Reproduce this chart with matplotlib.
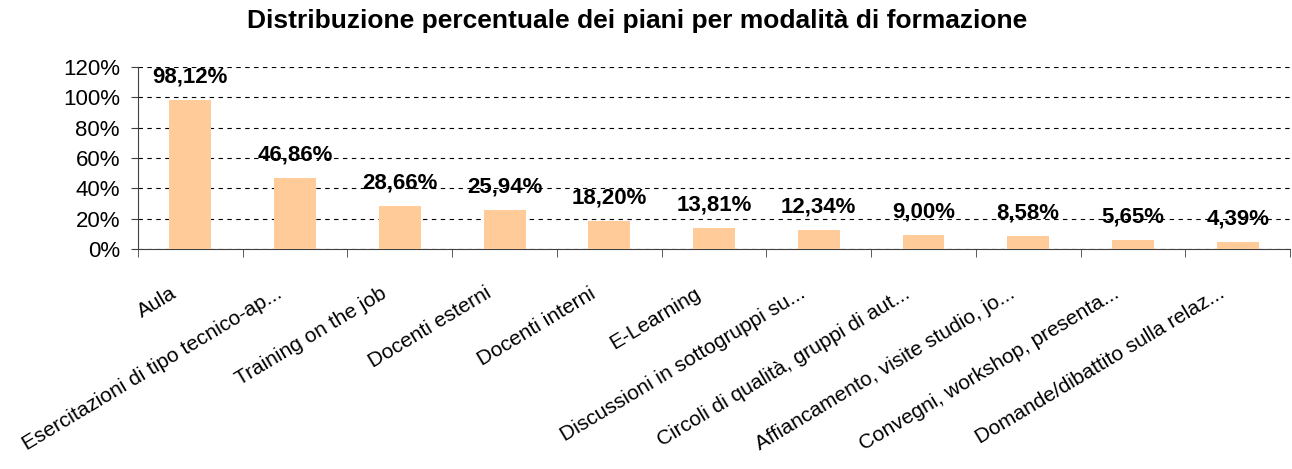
import numpy as np
import matplotlib.pyplot as plt
import matplotlib.transforms as mtransforms

plt.rcParams['font.family'] = ['Liberation Sans', 'DejaVu Sans']

categories = ["Aula", "Esercitazioni di tipo tecnico-ap...", "Training on the job",
              "Docenti esterni", "Docenti interni", "E-Learning",
              "Discussioni in sottogruppi su...", "Circoli di qualità, gruppi di aut...",
              "Affiancamento, visite studio, jo...", "Convegni, workshop, presenta...",
              "Domande/dibattito sulla relaz..."]
values = [98.12, 46.86, 28.66, 25.94, 18.20, 13.81, 12.34, 9.00, 8.58, 5.65, 4.39]
yticks = [0, 20, 40, 60, 80, 100, 120]

fig = plt.figure(figsize=(12.92, 4.69), dpi=100)
ax = fig.add_axes([0.1068, 0.469, 0.8917, 0.388])

x = np.arange(len(categories))
ax.bar(x, values, width=0.4, color='#FFCC99', zorder=3)

for xi, v in zip(x, values):
    ax.annotate(("%.2f%%" % v).replace('.', ','), (xi, v), xytext=(0, 9),
                textcoords='offset points', ha='center', va='bottom',
                fontsize=16, fontweight='bold')

ax.set_xlim(-0.5, len(categories) - 0.5)
ax.set_ylim(0, 120)
ax.set_yticks(yticks)
ax.set_yticklabels(["%d%%" % t for t in yticks], fontsize=16)
ax.yaxis.grid(True, linestyle=(0, (4, 4)), color='black', linewidth=0.8)
ax.set_axisbelow(True)

ax.set_xticks(x)
ax.set_xticklabels(categories, rotation=31, ha='right', rotation_mode='anchor', fontsize=15)
ax.set_xticks(np.arange(len(categories) + 1) - 0.5, minor=True)
ax.tick_params(axis='x', which='major', length=0, pad=25)
ax.tick_params(axis='x', which='minor', length=6, color='#404040')
ax.tick_params(axis='y', length=5, pad=8, color='#404040')
shift = mtransforms.ScaledTranslation(-0.2, 0, fig.dpi_scale_trans)
for lbl in ax.get_xticklabels():
    lbl.set_transform(lbl.get_transform() + shift)

ax.spines['top'].set_visible(False)
ax.spines['right'].set_visible(False)
ax.spines['left'].set_color('#404040')
ax.spines['bottom'].set_color('#404040')

fig.text(0.493, 0.955, "Distribuzione percentuale dei piani per modalità di formazione",
         ha='center', va='center', fontsize=19, fontweight='bold')

fig.savefig("out.png", dpi=100)
